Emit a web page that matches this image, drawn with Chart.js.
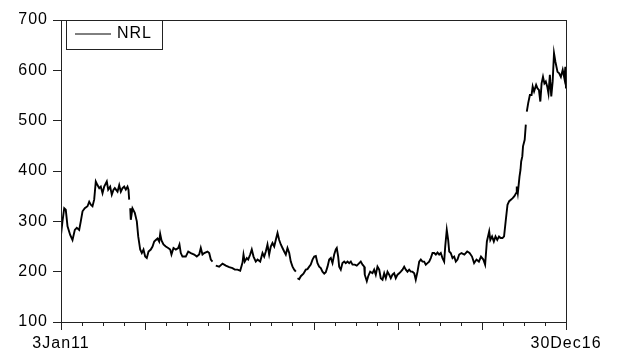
<!DOCTYPE html>
<html>
<head>
<meta charset="utf-8">
<script src="https://cdn.jsdelivr.net/npm/chart.js@4/dist/chart.umd.min.js"></script>
<style>
  html, body { margin: 0; padding: 0; background: #fff; }
  #wrap { width: 619px; height: 354px; }
</style>
</head>
<body>
<div id="wrap"><canvas id="nrlChart"></canvas></div>
<script>
// months since 3 Jan 2011 (0 = 3Jan11, 72 = 30Dec16), null = missing value
const months = [
  0, 0.21, 0.46, 0.68, 0.93, 1.31, 1.64, 1.97, 2.25, 2.59, 2.82, 3.07, 3.39, 3.78, 4.02, 4.25, 4.49, 4.73, 4.96, 5.20,
  5.45, 5.67, 5.92, 6.16, 6.53, 6.73, 7.01, 7.24, 7.49, 7.67, 8.06, 8.30, 8.53, 8.77, 9.01, 9.24, 9.48, 9.62, 9.72, 9.79,
  9.87, 9.95, 10.19, 10.52, 10.81, 11.01, 11.29, 11.52, 11.76, 12.00, 12.23, 12.48, 12.80, 13.05, 13.29, 13.52, 13.76, 14.00, 14.14, 14.33,
  14.61, 14.94, 15.28, 15.57, 15.75, 16.04, 16.37, 16.71, 16.89, 17.08, 17.32, 17.79, 18.14, 18.51, 18.99, 19.36, 19.70, 19.93, 20.17, 20.42,
  20.89, 21.13, 21.36, 21.60, 21.81, 22.07, 22.55, 23.03, 23.50, 23.98, 24.45, 24.78, 25.16, 25.55, 25.88, 26.02, 26.20, 26.49, 26.69, 26.97,
  27.20, 27.45, 27.77, 28.02, 28.40, 28.73, 28.97, 29.20, 29.44, 29.68, 29.91, 30.15, 30.40, 30.62, 30.87, 31.11, 31.34, 31.58, 31.82, 32.05,
  32.29, 32.54, 32.76, 33.01, 33.25, 33.48, 33.58, 33.72, 33.96, 34.19, 34.57, 34.90, 35.14, 35.39, 35.61, 35.86, 36.10, 36.33, 36.57, 36.81,
  37.04, 37.28, 37.53, 37.75, 38.00, 38.24, 38.47, 38.71, 38.95, 39.18, 39.32, 39.52, 39.66, 39.89, 40.13, 40.38, 40.60, 40.85, 41.09, 41.32,
  41.56, 41.89, 42.17, 42.52, 42.74, 42.99, 43.23, 43.31, 43.60, 43.80, 44.08, 44.41, 44.65, 44.88, 45.12, 45.37, 45.59, 45.84, 46.08, 46.31,
  46.55, 46.79, 47.02, 47.26, 47.50, 47.73, 47.98, 48.22, 48.45, 48.69, 48.93, 49.16, 49.40, 49.64, 49.87, 50.11, 50.36, 50.58, 50.83, 51.07,
  51.30, 51.54, 51.78, 52.01, 52.25, 52.49, 52.72, 52.97, 53.21, 53.44, 53.68, 53.92, 54.15, 54.39, 54.63, 54.78, 55.00, 55.20, 55.35, 55.57,
  55.82, 56.06, 56.29, 56.53, 56.77, 57.10, 57.51, 57.91, 58.25, 58.60, 58.90, 59.24, 59.58, 59.88, 60.22, 60.47, 60.72, 61.05, 61.21, 61.46,
  61.71, 61.95, 62.20, 62.45, 62.69, 62.95, 63.17, 63.42, 63.66, 63.90, 64.14, 64.40, 64.64, 64.88, 64.98, 65.13, 65.37, 65.51, 65.61, 65.77,
  65.87, 66.11, 66.27, 66.34, 66.41, 66.61, 66.85, 67.09, 67.25, 67.45, 67.74, 67.94, 68.14, 68.34, 68.52, 68.72, 68.92, 69.12, 69.32, 69.50,
  69.70, 69.90, 70.10, 70.29, 70.49, 70.79, 71.03, 71.27, 71.53, 71.77, 71.91, 72
];

const nrl = [
  273, 300, 326, 323, 290, 273, 263, 283, 287, 283, 300, 320, 326, 330, 339, 333, 330, 343, 379, 372,
  366, 369, 356, 369, 379, 363, 369, 353, 363, 366, 359, 372, 359, 366, 369, 363, 369, 363, 343, null,
  326, 303, 326, 317, 300, 270, 244, 237, 244, 230, 227, 240, 244, 250, 260, 263, 266, 260, 275, 262,
  254, 250, 247, 244, 234, 247, 244, 247, 254, 237, 230, 230, 240, 237, 234, 230, 234, 247, 234, 237,
  240, 237, 224, 220, null, 212, 210, 216, 212, 209, 207, 204, 204, 202, 218, 234, 220, 227, 224, 234,
  244, 230, 220, 224, 220, 237, 230, 240, 254, 234, 250, 257, 250, 263, 277, 263, 254, 247, 240, 234,
  247, 237, 220, 210, 204, 200, null, 187, 185, 191, 196, 204, 205, 210, 214, 224, 230, 231, 217, 210,
  207, 200, 196, 199, 210, 224, 227, 217, 234, 244, 247, 230, 210, 204, 217, 220, 217, 220, 217, 220,
  214, 214, 212, 217, 220, 214, 210, 194, 181, 191, 200, 197, 204, 194, 210, 204, 187, 184, 197, 187,
  200, 194, 187, 194, 197, 187, 194, 197, 200, 204, 210, 204, 200, 204, 200, 200, 197, 184, 200, 220,
  224, 220, 220, 214, 217, 220, 227, 237, 237, 234, 238, 234, 237, 227, 220, 250, 283, 263, 240, 237,
  227, 230, 220, 224, 234, 237, 234, 240, 237, 230, 217, 224, 220, 230, 224, 214, 260, 280, 263, 270,
  260, 270, 263, 270, 267, 267, 270, 303, 333, 340, 343, 346, 350, 356, 369, 356, 389, 402, 419, 429,
  449, 462, 492, null, 518, 535, 551, 551, 568, 558, 571, 564, 561, 538, 574, 587, 574, 578, 568, 554,
  591, 548, 578, 634, 617, 597, 594, 587, 601, 584, 607, 564
];

const seriesName = "NRL";
const endLabels = ["3Jan11", "30Dec16"];
const yMin = 100, yMax = 700, yStep = 100;

const axisFont = { family: "'Liberation Sans', Arial, sans-serif", size: 16 };
const ink = "#222";

// frame, quarter tick marks and boxed legend
const framePlugin = {
    id: "frame",
    beforeDraw(chart) {
        chart.ctx.letterSpacing = "1px";
    },
    afterDraw(chart) {
        const { ctx, chartArea: a, scales } = chart;
        const x = scales.x;
        ctx.save();
        ctx.strokeStyle = ink;
        ctx.lineWidth = 1;
        ctx.strokeRect(Math.round(a.left) + 0.5, Math.round(a.top) + 0.5,
            Math.round(a.right - a.left), Math.round(a.bottom - a.top));

        // tick marks below the x axis, longer at each year
        ctx.beginPath();
        x.ticks.forEach(t => {
            const px = Math.round(x.getPixelForValue(t.value)) + 0.5;
            const len = t.value % 12 === 0 ? 8 : 4;
            ctx.moveTo(px, Math.round(a.bottom));
            ctx.lineTo(px, Math.round(a.bottom) + len);
        });
        ctx.stroke();

        // legend box
        const ds = chart.data.datasets[0];
        const lx = Math.round(a.left) + 5, ly = Math.round(a.top);
        ctx.strokeRect(lx + 0.5, ly + 0.5, 96, 29);
        ctx.beginPath();
        ctx.strokeStyle = ds.borderColor;
        ctx.moveTo(lx + 9, ly + 14);
        ctx.lineTo(lx + 45, ly + 14);
        ctx.stroke();
        ctx.fillStyle = "#000";
        ctx.font = "16px " + axisFont.family;
        ctx.textAlign = "left";
        ctx.textBaseline = "middle";
        ctx.fillText(ds.label, lx + 51, ly + 14);
        ctx.restore();
    }
};

const ctx = document.getElementById("nrlChart");
new Chart(ctx, {
    type: "line",
    data: {
        datasets: [{
            label: seriesName,
            data: months.map((m, i) => ({ x: m, y: nrl[i] })),
            borderColor: "#000",
            borderWidth: 1.9,
            pointRadius: 0,
            tension: 0,
            spanGaps: false
        }]
    },
    options: {
        responsive: true,
        maintainAspectRatio: false,
        animation: false,
        layout: { padding: { top: 20, right: 53, bottom: 0, left: 0 } },
        plugins: {
            legend: { display: false },
            tooltip: { enabled: false }
        },
        scales: {
            x: {
                type: "linear",
                min: 0,
                max: 72,
                ticks: {
                    stepSize: 3,
                    autoSkip: false,
                    maxRotation: 0,
                    padding: 12,
                    font: axisFont,
                    color: "#000",
                    callback: v => v === 0 ? endLabels[0] : (v === 72 ? endLabels[1] : "")
                },
                grid: { display: false, drawTicks: false },
                border: { display: false },
                afterFit(s) { s.height = 32; }
            },
            y: {
                min: yMin,
                max: yMax,
                ticks: { stepSize: yStep, padding: 5, font: axisFont, color: "#000" },
                grid: { drawOnChartArea: false, tickLength: 8, color: ink },
                border: { display: false },
                afterFit(s) { s.width = 61; }
            }
        }
    },
    plugins: [framePlugin]
});
</script>
</body>
</html>
